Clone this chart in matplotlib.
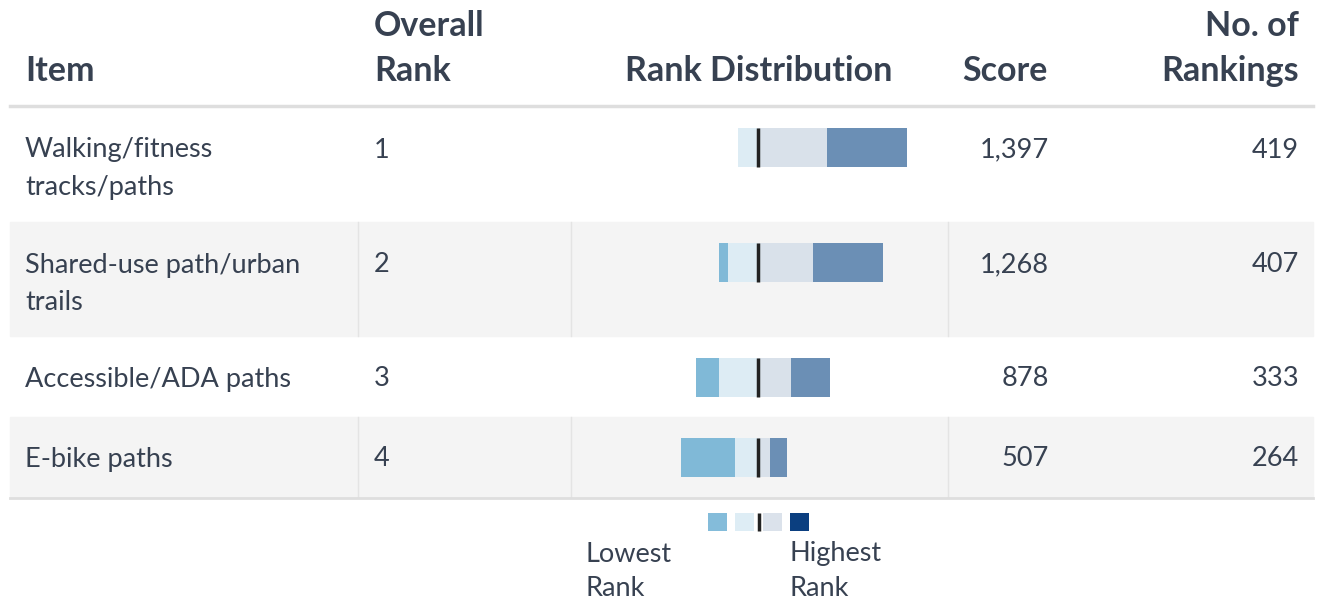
import matplotlib.pyplot as plt
from matplotlib.patches import Rectangle

# data
items = ["Walking/fitness\ntracks/paths", "Shared-use path/urban\ntrails",
         "Accessible/ADA paths", "E-bike paths"]
overall_rank = [1, 2, 3, 4]
scores = [1397, 1268, 878, 507]
n_rankings = [419, 407, 333, 264]
# counts of respondents putting the item at rank 1 (highest) .. rank 4 (lowest)
rank1 = [197, 174, 97, 41]
rank2 = [172, 137, 82, 31]
rank3 = [50, 74, 96, 56]
rank4 = [0, 22, 58, 136]

TXT = "#374151"
FONT = "Lato"
C_R4, C_R3, C_R2, C_R1 = "#80b9d7", "#ddecf4", "#d9e1ea", "#6b8fb5"
LEG = ["#84bcda", "#deedf5", "#dbe2eb", "#0b3f80"]

W, H = 1319, 605
fig = plt.figure(figsize=(W / 100, H / 100), dpi=100)
ax = fig.add_axes([0, 0, 1, 1])
ax.set_xlim(0, W)
ax.set_ylim(H, 0)
ax.axis("off")

# row geometry (pixels)
row_top = [107, 222, 336, 417]
row_bot = [222, 336, 417, 497]
row_mid = [150, 265, 379, 459]

for i in range(4):
    if i % 2 == 1:
        ax.add_patch(Rectangle((10, row_top[i]), W - 16, row_bot[i] - row_top[i],
                               color="#f4f4f4", zorder=0))
        for xs in (358, 571, 948):
            ax.plot([xs, xs], [row_top[i], row_bot[i]], color="#e4e4e4", lw=1, zorder=1)

ax.plot([10, W - 6], [106, 106], color="#dedede", lw=2.5, zorder=2)
ax.plot([10, W - 6], [498, 498], color="#dedede", lw=2, zorder=2)

# headers
hk = dict(color=TXT, fontsize=24.5, fontweight="bold", family=FONT, va="center")
ax.text(25, 71, "Item", ha="left", **hk)
ax.text(374, 26, "Overall", ha="left", **hk)
ax.text(374, 71, "Rank", ha="left", **hk)
ax.text(892, 71, "Rank Distribution", ha="right", **hk)
ax.text(1048, 71, "Score", ha="right", **hk)
ax.text(1299, 26, "No. of", ha="right", **hk)
ax.text(1299, 71, "Rankings", ha="right", **hk)

# body text
bk = dict(color=TXT, fontsize=19.5, family=FONT, va="center")
for i in range(4):
    y = row_mid[i]
    for k, ln in enumerate(items[i].split("\n")):
        ax.text(25, y + 37 * k, ln, ha="left", **bk)
    ax.text(374, y, str(overall_rank[i]), ha="left", **bk)
    ax.text(1049, y, f"{scores[i]:,}", ha="right", **bk)
    ax.text(1299, y, f"{n_rankings[i]:,}", ha="right", **bk)

# diverging bars: center at x=758 px, 0.403 px per count
center_px, scale = 758, 0.403
axb = fig.add_axes([0, 0, 1, 1], zorder=3)
axb.patch.set_alpha(0)
axb.set_xlim(-center_px / scale, (W - center_px) / scale)
axb.set_ylim(H, 0)
axb.axis("off")
bar_mid = [147, 262, 377, 457]
bh = 39
for i in range(4):
    y = bar_mid[i]
    axb.barh(y, -rank3[i], height=bh, left=0, color=C_R3, lw=0)
    axb.barh(y, -rank4[i], height=bh, left=-rank3[i], color=C_R4, lw=0)
    axb.barh(y, rank2[i], height=bh, left=0, color=C_R2, lw=0)
    axb.barh(y, rank1[i], height=bh, left=rank2[i], color=C_R1, lw=0)
    axb.plot([0, 0], [y - bh / 2, y + bh / 2], color="#222222", lw=2.5, solid_capstyle="butt")

# legend
for x0, c in zip([708, 735, 763, 790], LEG):
    ax.add_patch(Rectangle((x0, 513), 19, 18, color=c, lw=0, zorder=3))
ax.plot([758.5, 758.5], [513, 531], color="#222222", lw=2.5, solid_capstyle="butt", zorder=3)
ax.text(586, 554, "Lowest", ha="left", **bk)
ax.text(586, 589, "Rank", ha="left", **bk)
ax.text(789, 554, "Highest", ha="left", **bk)
ax.text(789, 589, "Rank", ha="left", **bk)

fig.savefig("out.png", dpi=100, facecolor="white")
